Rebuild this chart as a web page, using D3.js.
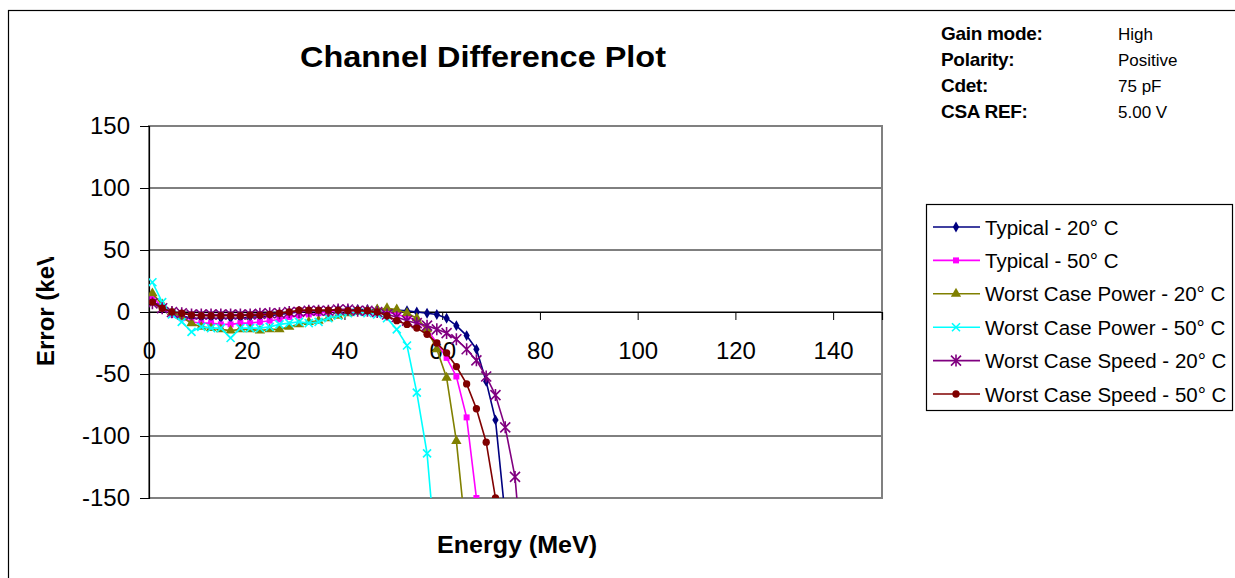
<!DOCTYPE html>
<html>
<head>
<script src="https://d3js.org/d3.v7.min.js"></script>
<style>
	body { margin: 0; background: #fff; }
	svg { display: block; font-family: "Liberation Sans", Arial, sans-serif; }
</style>
</head>
<body>
<svg id="chart" width="1235" height="578"></svg>
<script>
// energy points (MeV), shared by every series
var energy = [0.7, 2.7, 4.7, 6.7, 8.7, 10.7, 12.7, 14.7, 16.7, 18.7, 20.7, 22.7, 24.7, 26.7, 28.7,
	30.7, 32.7, 34.7, 36.7, 38.7, 40.7, 42.7, 44.7, 46.7, 48.7, 50.7, 52.8, 54.8, 56.9, 58.9,
	60.9, 62.9, 65.0, 67.0, 69.0, 70.9, 72.9, 74.9, 76.9];

// error values (keV)
var typical20 = [9, 3, -1, -3, -5, -5, -5, -5, -5, -5, -4, -4, -3, -2, -1, 0, 1, 1, 1, 2, 2, 2, 2, 2, 2,
	1.5, 1, 0, -1, -2, -5, -11, -19, -30, -56, -87, -165];
var typical50 = [12, 4, -2, -5, -8, -9, -9, -10, -10, -9, -9, -8, -7, -6, -4, -3, -2, -1, 0, 1, 1, 1, 1, 1, 0,
	-2, -4, -7, -14, -25, -37, -52, -85, -150, -240];
var power20 = [15, 6, 0, -4, -9, -12, -13, -14, -15, -14, -14, -15, -14, -14, -12, -10, -8, -7, -5, -3, -1, 0, 1, 2, 3,
	2, -1, -5, -14, -30, -53, -104, -185];
var power50 = [24, 8, -2, -8, -16, -12, -13, -13, -21, -13, -13, -13, -12, -10, -9, -8, -9, -8, -5, -3, -1, 0, -1, -2, -5,
	-14, -27, -65, -114, -205];
var speed20 = [7, 3, 0, -1, -2, -2, -2, -2, -2, -2, -2, -1.5, -1, -1, 0, 0, 1, 1, 1, 2, 2, 1, 1, 0, -2,
	-4, -7, -9, -11, -14, -17, -22, -30, -39, -52, -67, -93, -133, -225];
var speed50 = [8, 3, 0, -1, -2.5, -3, -3, -3, -3, -3, -2.5, -2.5, -2, -1, 0, 1.5, 1.5, 1.5, 1.5, 1.5, 1, 1.5, 1, 0, -3,
	-7, -10, -13, -18, -25, -33, -44, -58, -78, -105, -150, -230];

var seriesNames = ["Typical - 20° C", "Typical - 50° C", "Worst Case Power - 20° C",
	"Worst Case Power - 50° C", "Worst Case Speed - 20° C", "Worst Case Speed - 50° C"];
var seriesValues = [typical20, typical50, power20, power50, speed20, speed50];
var seriesColors = ["#000080", "#FF00FF", "#808000", "#00FFFF", "#800080", "#800000"];
var seriesMarkers = ["diamond", "square", "triangle", "x", "star", "circle"];

var xTicks = [0, 20, 40, 60, 80, 100, 120, 140];
var yTicks = [150, 100, 50, 0, -50, -100, -150];

var infoLabels = ["Gain mode:", "Polarity:", "Cdet:", "CSA REF:"];
var infoValues = ["High", "Positive", "75 pF", "5.00 V"];

var svg = d3.select("#chart");

// outer chart frame
svg.append("rect")
	.attr("x", 8.5).attr("y", 10.5)
	.attr("width", 1240).attr("height", 580)
	.attr("fill", "none").attr("stroke", "#000").attr("stroke-width", 1.2);

var plot = {left: 149, right: 882, top: 126, bottom: 498};

var x = d3.scaleLinear().domain([0, 150]).range([plot.left, plot.right]);
var y = d3.scaleLinear().domain([-150, 150]).range([plot.bottom, plot.top]);

// plain hyphen for negatives, like the original
var fmt = function(d) { return String(d); };

// title
svg.append("text")
	.attr("x", 483).attr("y", 67)
	.attr("text-anchor", "middle")
	.attr("font-size", 30).attr("font-weight", "bold")
	.attr("textLength", 366).attr("lengthAdjust", "spacingAndGlyphs")
	.text("Channel Difference Plot");

// settings block, top right
infoLabels.forEach(function(lbl, i) {
	svg.append("text")
		.attr("x", 941).attr("y", 40 + i * 26)
		.attr("font-size", 19).attr("font-weight", "bold")
		.attr("letter-spacing", -0.3)
		.text(lbl);
	svg.append("text")
		.attr("x", 1118).attr("y", 40 + i * 26)
		.attr("font-size", 17)
		.text(infoValues[i]);
});

// gridlines
svg.append("g")
	.selectAll("line")
	.data(yTicks.filter(function(d) { return d != 150 && d != -150; }))
	.join("line")
	.attr("x1", plot.left).attr("x2", plot.right)
	.attr("y1", function(d) { return y(d); })
	.attr("y2", function(d) { return y(d); })
	.attr("stroke", "#000").attr("stroke-width", 1);

// plot area border
svg.append("rect")
	.attr("x", plot.left).attr("y", plot.top)
	.attr("width", plot.right - plot.left).attr("height", plot.bottom - plot.top)
	.attr("fill", "none").attr("stroke", "#808080").attr("stroke-width", 2);

// y axis
var yAxis = svg.append("g")
	.attr("transform", "translate(" + plot.left + ",0)")
	.call(d3.axisLeft(y).tickValues(yTicks).tickFormat(fmt).tickSize(9).tickPadding(10));
yAxis.select(".domain").attr("stroke", "#000").attr("stroke-width", 1.2);
yAxis.selectAll(".tick line").attr("stroke", "#000");
yAxis.selectAll(".tick text")
	.attr("font-size", 24).attr("fill", "#000")
	.attr("font-family", "Liberation Sans, Arial, sans-serif");

// x axis sits on the zero line
var xAxis = svg.append("g")
	.attr("transform", "translate(0," + y(0) + ")")
	.call(d3.axisBottom(x).tickValues(xTicks).tickFormat(fmt).tickSize(8).tickPadding(22));
xAxis.select(".domain").attr("stroke", "#000").attr("stroke-width", 1.2);
xAxis.selectAll(".tick line").attr("stroke", "#000");
xAxis.selectAll(".tick text")
	.attr("font-size", 24).attr("fill", "#000")
	.attr("font-family", "Liberation Sans, Arial, sans-serif");

// axis titles
svg.append("text")
	.attr("x", 517).attr("y", 553)
	.attr("text-anchor", "middle")
	.attr("font-size", 23).attr("font-weight", "bold")
	.attr("textLength", 160).attr("lengthAdjust", "spacingAndGlyphs")
	.text("Energy (MeV)");

// the y title is cut short in the original
svg.append("clipPath").attr("id", "ylabClip")
	.append("rect").attr("x", 0).attr("y", 257).attr("width", 140).attr("height", 200);
svg.append("g").attr("clip-path", "url(#ylabClip)")
	.append("text")
	.attr("transform", "translate(54,366) rotate(-90)")
	.attr("font-size", 24).attr("font-weight", "bold")
	.text("Error (keV)");

// series
svg.append("clipPath").attr("id", "plotClip")
	.append("rect")
	.attr("x", plot.left).attr("y", plot.top - 20)
	.attr("width", plot.right - plot.left).attr("height", plot.bottom - plot.top + 20);

var line = d3.line()
	.x(function(d) { return x(d[0]); })
	.y(function(d) { return y(d[1]); });

function markerPath(kind) {
	if (kind == "diamond") return d3.symbol(d3.symbolDiamond, 34)();
	if (kind == "square") return d3.symbol(d3.symbolSquare, 36)();
	if (kind == "triangle") return d3.symbol(d3.symbolTriangle, 46)();
	if (kind == "circle") return d3.symbol(d3.symbolCircle, 42)();
	if (kind == "x") return "M-4,-4L4,4M-4,4L4,-4";
	return "M-5,-5L5,5M-5,5L5,-5M0,-6L0,6";
}
function isStroked(kind) { return kind == "x" || kind == "star"; }

var seriesG = svg.append("g").attr("clip-path", "url(#plotClip)");
seriesValues.forEach(function(vals, i) {
	var pts = vals.map(function(v, j) { return [energy[j], v]; });
	var g = seriesG.append("g");
	g.append("path")
		.attr("d", line(pts))
		.attr("fill", "none")
		.attr("stroke", seriesColors[i]).attr("stroke-width", 1.6);
	var kind = seriesMarkers[i];
	g.selectAll("path.m")
		.data(pts.filter(function(p) { return p[1] >= -152; }))
		.join("path")
		.attr("class", "m")
		.attr("transform", function(p) { return "translate(" + x(p[0]) + "," + y(p[1]) + ")"; })
		.attr("d", markerPath(kind))
		.attr("fill", isStroked(kind) ? "none" : seriesColors[i])
		.attr("stroke", seriesColors[i])
		.attr("stroke-width", isStroked(kind) ? 1.6 : 0);
});

// legend
var leg = svg.append("g");
leg.append("rect")
	.attr("x", 926.5).attr("y", 204.5)
	.attr("width", 306).attr("height", 206)
	.attr("fill", "#fff").attr("stroke", "#000").attr("stroke-width", 1.2);
seriesNames.forEach(function(name, i) {
	var cy = 227 + i * 33.4;
	leg.append("line")
		.attr("x1", 933).attr("x2", 980)
		.attr("y1", cy).attr("y2", cy)
		.attr("stroke", seriesColors[i]).attr("stroke-width", 1.6);
	var kind = seriesMarkers[i];
	leg.append("path")
		.attr("transform", "translate(956," + cy + ")")
		.attr("d", markerPath(kind))
		.attr("fill", isStroked(kind) ? "none" : seriesColors[i])
		.attr("stroke", seriesColors[i])
		.attr("stroke-width", isStroked(kind) ? 1.6 : 0);
	leg.append("text")
		.attr("x", 985).attr("y", cy + 7.5)
		.attr("font-size", 20.5)
		.text(name);
});
</script>
</body>
</html>
